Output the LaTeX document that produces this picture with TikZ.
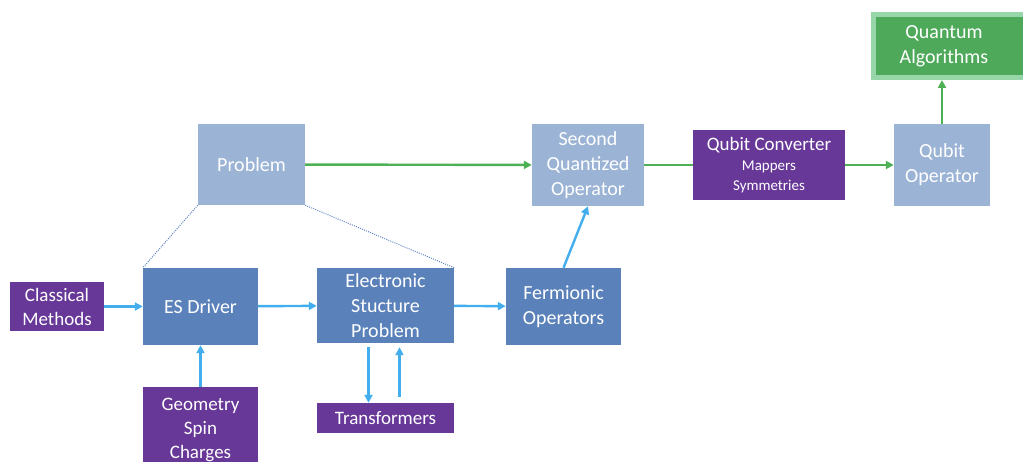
\documentclass[tikz,border=0pt]{standalone}
\usepackage{fontspec}
\setmainfont{Carlito}
\usepackage{tikz}
\usetikzlibrary{arrows.meta, positioning, calc}
\definecolor{problemcolor}{RGB}{155, 179, 213}
\definecolor{drivercolor}{RGB}{90, 129, 185}
\definecolor{inputcolor}{RGB}{104, 56, 152}
\definecolor{algocolor}{RGB}{78, 170, 90}
\definecolor{algoedge}{RGB}{150, 214, 168}
\definecolor{bluelink}{RGB}{66, 174, 238}
\definecolor{greenlink}{RGB}{78, 176, 84}
\definecolor{dotlink}{RGB}{95, 130, 195}

\begin{document}
\begin{tikzpicture}[
    x=1pt, y=-1pt,
    box/.style={inner sep=0pt, align=center, text=white, font=\fontsize{20}{25}\selectfont},
    light/.style={box, fill=problemcolor},
    dark/.style={box, fill=drivercolor},
    input/.style={box, fill=inputcolor, font=\fontsize{19}{24}\selectfont},
    algo/.style={box, fill=algocolor, draw=algoedge, line width=5pt},
    bluearrow/.style={draw=bluelink, line width=2.4pt, -{Triangle[length=8pt,width=8pt]}},
    greenarrow/.style={draw=greenlink, line width=2.4pt, -{Triangle[length=8pt,width=8pt]}},
    greenline/.style={draw=greenlink, line width=2.4pt},
    dotline/.style={draw=dotlink, line width=1pt, dash pattern=on 1pt off 1.2pt},
]
    \clip (0,0) rectangle (1023,462);

    % Top row
    \node[light, minimum width=107pt, minimum height=81pt] (problem) at (251.5, 164.5) {Problem};
    \node[light, minimum width=112pt, minimum height=82pt] (sqo) at (588, 165) {Second\\Quantized\\Operator};
    \node[input, minimum width=152pt, minimum height=70pt] (converter) at (769, 165) {Qubit Converter\\[-4pt]{\fontsize{15}{20}\selectfont Mappers}\\[-4pt]{\fontsize{15}{20}\selectfont Symmetries}};
    \node[light, minimum width=96pt, minimum height=82pt] (qubitop) at (942, 165) {Qubit\\Operator};
    \node[algo, minimum width=153pt, minimum height=63pt] (algorithms) at (950, 46) {\hspace*{-12pt}Quantum\\\hspace*{-12pt}Algorithms};

    % Bottom row
    \node[input, minimum width=94pt, minimum height=49pt] (classical) at (57, 306.5) {Classical\\Methods};
    \node[dark, minimum width=115pt, minimum height=77pt] (driver) at (200.5, 306.5) {ES Driver};
    \node[dark, minimum width=137pt, minimum height=75pt] (esp) at (385.5, 305.5) {Electronic\\Stucture\\Problem};
    \node[dark, minimum width=115pt, minimum height=77pt] (fermionic) at (563.5, 306.5) {Fermionic\\Operators};

    % Inputs below
    \node[input, minimum width=115pt, minimum height=86pt, anchor=north] (geometry) at (200.5, 387) {Geometry\\Spin\\Charges};
    \node[input, minimum width=137pt, minimum height=30pt] (transformers) at (385.5, 418) {Transformers};

    % Problem contains driver and electronic structure problem
    \draw[dotline] (problem.south west) -- (driver.north west);
    \draw[dotline] (problem.south east) -- (esp.north east);

    % Blue links
    \draw[bluearrow] (classical) -- (driver);
    \draw[bluearrow] (driver) -- (esp);
    \draw[bluearrow] (esp) -- (fermionic);
    \draw[bluearrow] (geometry) -- (driver);
    \draw[bluearrow] (fermionic.north) -- (sqo.south);
    \draw[bluearrow, shorten <=4pt] ([xshift=-17pt]esp.south) -- ([xshift=-17pt]transformers.north);
    \draw[bluearrow, shorten <=6pt, shorten >=4pt] ([xshift=14pt]transformers.north) -- ([xshift=14pt]esp.south);

    % Green links
    \draw[greenarrow] (problem) -- (sqo);
    \draw[greenline] (sqo) -- (converter);
    \draw[greenarrow] (converter) -- (qubitop);
    \draw[greenarrow] (qubitop) -- (qubitop |- algorithms.south);
\end{tikzpicture}
\end{document}
